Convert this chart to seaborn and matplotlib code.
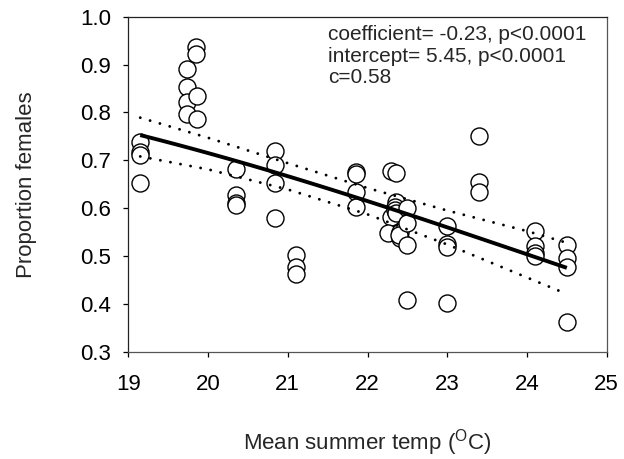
import numpy as np
import pandas as pd
import matplotlib
matplotlib.use("Agg")
import matplotlib.pyplot as plt
import seaborn as sns

# Mean summer temperature of each site (deg C) and observed proportion of females
temp = [19.15, 19.15, 19.15, 19.15,
        19.74, 19.74, 19.74, 19.74,
        19.85, 19.85, 19.86, 19.86,
        20.35, 20.35, 20.35, 20.35,
        20.84, 20.84, 20.84, 20.84,
        21.10, 21.10, 21.10,
        21.85, 21.85, 21.85, 21.85,
        22.30, 22.30, 22.26,
        22.36, 22.36, 22.35, 22.34, 22.36,
        22.41, 22.41, 22.40,
        22.49, 22.49, 22.50, 22.49,
        23.00, 23.00, 23.00, 23.00,
        23.40, 23.40, 23.40,
        24.10, 24.10, 24.10, 24.10,
        24.50, 24.50, 24.50, 24.50]
prop_female = [0.739, 0.718, 0.711, 0.652,
               0.890, 0.854, 0.822, 0.796,
               0.936, 0.922, 0.834, 0.787,
               0.681, 0.627, 0.610, 0.607,
               0.720, 0.690, 0.653, 0.579,
               0.502, 0.478, 0.462,
               0.676, 0.671, 0.634, 0.603,
               0.678, 0.582, 0.547,
               0.673, 0.612, 0.603, 0.596, 0.590,
               0.551, 0.537, 0.544,
               0.600, 0.568, 0.523, 0.407,
               0.562, 0.525, 0.518, 0.401,
               0.751, 0.655, 0.634,
               0.553, 0.521, 0.506, 0.500,
               0.522, 0.495, 0.478, 0.363]

# Logistic regression fit: logit(p) = intercept + coefficient * temp
intercept = 5.45
coefficient = -0.2265
c_value = 0.58
fit_range = [19.15, 24.5]

# 95% confidence limits of the fitted proportion
band_temp = [19.15, 20.0, 21.0, 22.0, 23.0, 24.0, 24.45]
band_upper = [0.789, 0.747, 0.694, 0.642, 0.595, 0.552, 0.530]
band_lower = [0.708, 0.681, 0.639, 0.587, 0.524, 0.455, 0.424]

x_ticks = [19, 20, 21, 22, 23, 24, 25]
y_ticks = [0.3, 0.4, 0.5, 0.6, 0.7, 0.8, 0.9, 1.0]

df = pd.DataFrame({"temp": temp, "prop": prop_female})

sns.set_style("ticks")
plt.rcParams["font.family"] = ["Liberation Sans", "DejaVu Sans"]
plt.rcParams["mathtext.fontset"] = "custom"
plt.rcParams["mathtext.rm"] = "Liberation Sans"

fig = plt.figure(figsize=(6.24, 4.59), dpi=100)
ax = fig.add_axes([0.2056, 0.2338, 0.7667, 0.7298])

sns.scatterplot(data=df, x="temp", y="prop", ax=ax, s=150, marker="o",
                facecolor="white", edgecolor="black", linewidth=1.0,
                zorder=2, legend=False)

fit_x = np.linspace(fit_range[0], fit_range[1], 100)
fit_y = 1.0 / (1.0 + np.exp(-(intercept + coefficient * fit_x)))
ax.plot(fit_x, fit_y, color="black", lw=2.8, solid_capstyle="butt", zorder=4)

dot_style = dict(color="black", lw=2.1, ls=(0, (0.01, 3.5)),
                 dash_capstyle="round", zorder=3)
ax.plot(band_temp, band_upper, **dot_style)
ax.plot(band_temp, band_lower, **dot_style)

ax.set_xlim(19, 25)
ax.set_ylim(0.3, 1.0)
ax.set_xticks(x_ticks)
ax.set_yticks(y_ticks)
ax.set_xticklabels([str(t) for t in x_ticks])
ax.set_yticklabels([f"{t:.1f}" for t in y_ticks])

ax.tick_params(axis="x", direction="out", length=3.6, width=0.9,
               pad=12.5, labelsize=16, colors="black")
ax.tick_params(axis="y", direction="out", length=3.6, width=0.9,
               pad=9, labelsize=16, colors="black")

for side, spine in ax.spines.items():
    spine.set_visible(True)
    spine.set_linewidth(0.9)
    spine.set_color("#222222" if side in ("left", "top") else "#555555")

ax.set_xlabel(r"Mean summer temp ($\mathregular{^{O}}$C)", fontsize=16)
ax.set_ylabel("Proportion females", fontsize=16)
ax.xaxis.set_label_coords(0.5, -0.225)
ax.yaxis.set_label_coords(-0.19, 0.5)

ax.text(0.4174, 0.9304, f"coefficient= {coefficient:.2f}, p<0.0001",
        transform=ax.transAxes, fontsize=15, va="baseline", ha="left")
ax.text(0.4174, 0.8657, f"intercept= {intercept:.2f}, p<0.0001",
        transform=ax.transAxes, fontsize=15, va="baseline", ha="left")
ax.text(0.4174, 0.8021, f"c={c_value:.2f}",
        transform=ax.transAxes, fontsize=15, va="baseline", ha="left")

fig.savefig("out.png", dpi=100, facecolor="white")
